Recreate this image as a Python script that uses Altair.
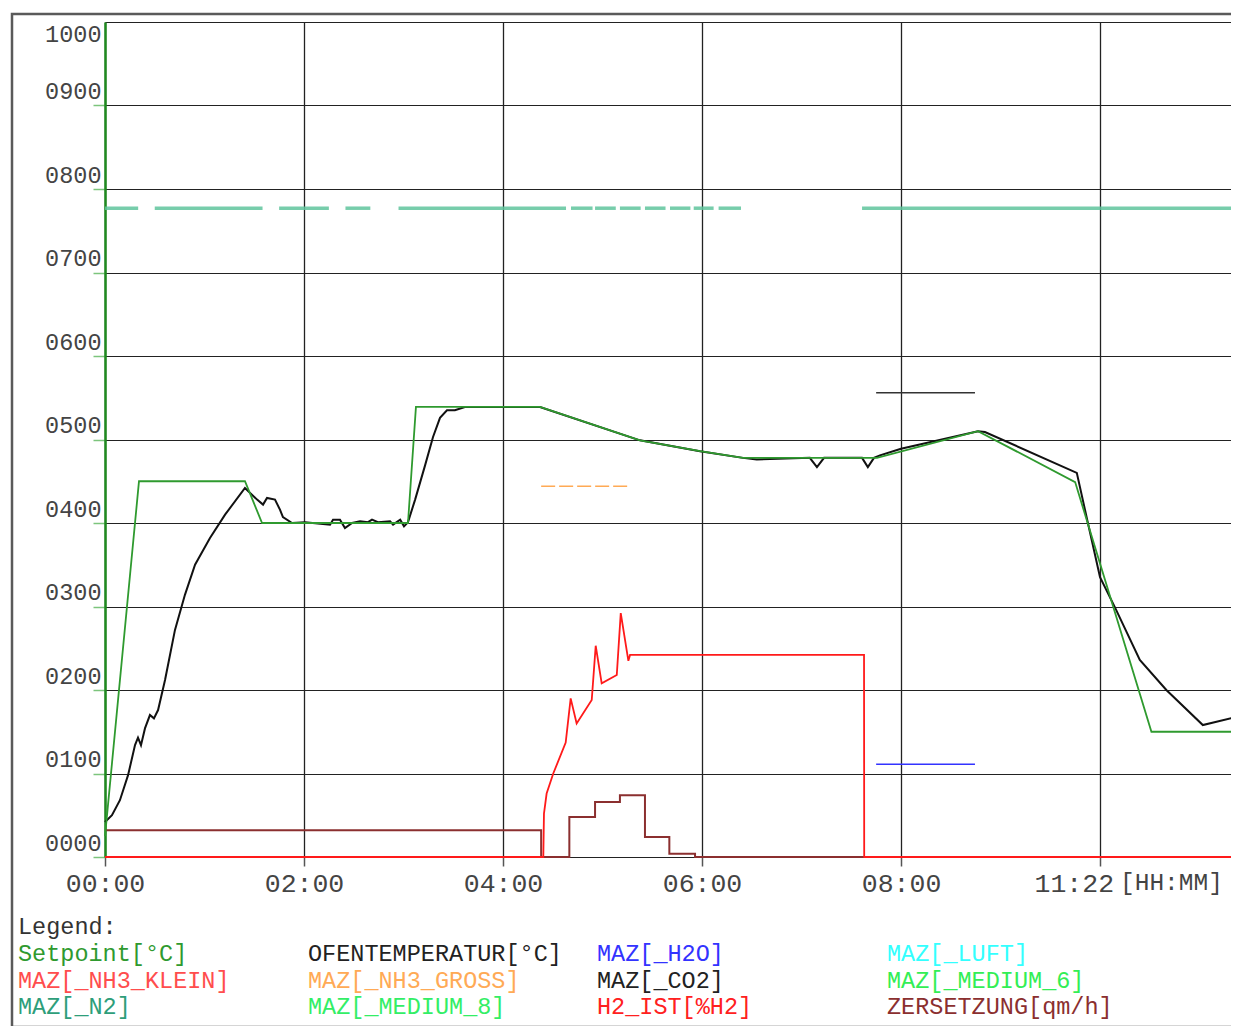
import altair as alt
import pandas as pd

# ---------------- data (time in minutes, values in axis units) ----------------
ofen_t = [0, 4.2, 9, 13.9, 18.1, 19.9, 21.7, 24.1, 27.1, 29.5, 32, 36.2, 42.2, 48.2, 54.3,
          63.3, 72.4, 84.4, 91.7, 95.3, 97.7, 102.5, 105.5, 107.3, 112.8, 120.6, 135.7,
          137.5, 141.7, 144.7, 149, 153.8, 158.6, 161, 164.6, 171.9, 173.7, 178, 180.3,
          182.7, 187, 193, 197.8, 202, 206.2, 211, 217, 262.3, 322.6, 358.8, 384.7, 393,
          425, 429.3, 433.6, 456.5, 460, 463.7, 467.3, 480, 526.4, 530.6, 586, 592.7, 600,
          609, 624, 640, 662, 682.6]
ofen_v = [42, 50, 68, 98, 134, 143, 134, 154, 170, 166, 176, 212, 272, 314, 350,
          382, 410, 442, 428, 422, 430, 428, 416, 407, 400, 401, 398,
          404, 404, 394, 400, 402, 401, 404, 401, 402, 398, 404, 396,
          401, 428, 469, 503, 526, 535, 535, 539, 539, 499, 486, 478, 476,
          478, 467, 478, 478, 467, 478, 481, 489, 510, 509, 460, 400, 335,
          299, 236, 200, 158, 168]

set_t = [0, 20.5, 84.4, 94.7, 182.7, 187.5, 262.3, 322.6, 358.8, 384.7, 465.5, 526.4,
         585, 631, 682.4, 682.6]
set_v = [25, 450, 450, 400, 400, 539, 539, 499, 486, 478, 478, 510, 449, 150, 150, 0]

h2_t = [0, 264.3, 264.7, 266.3, 270.3, 277.8, 280.8, 284.4, 293.5, 295.9, 299.5, 308.6,
        311, 315.6, 316.6, 457.7, 457.8, 682.6]
h2_v = [0, 0, 52, 76, 100, 137, 190, 160, 188, 253, 208, 218, 292, 235, 242, 242, 0, 0]

zer_t = [0, 263, 280, 295.5, 310.5, 325.6, 340.3, 355.8, 682.6]
zer_v = [32, 0, 48, 66, 74, 24, 4, 0, 0]

n2_start = [0, 30, 105, 145, 177, 281, 295.5, 310.5, 325.6, 340.7, 355, 370, 456.5]
n2_end = [20, 95, 135, 160, 278, 294, 308, 323, 338, 353, 367, 383.5, 682.6]
n2_level = 777

co2_span = [465, 524.6]
co2_level = 556
h2o_span = [465, 524.6]
h2o_level = 111
nh3g_span = [263, 316.6]
nh3g_level = 444

y_ticks = list(range(0, 1001, 100))
x_ticks = [0, 120, 240, 360, 480, 600]
end_label = "11:22"
unit_label = "[HH:MM]"

legend_labels = ["Setpoint[°C]", "OFENTEMPERATUR[°C]", "MAZ[_H2O]", "MAZ[_LUFT]",
                 "MAZ[_NH3_KLEIN]", "MAZ[_NH3_GROSS]", "MAZ[_CO2]", "MAZ[_MEDIUM_6]",
                 "MAZ[_N2]", "MAZ[_MEDIUM_8]", "H2_IST[%H2]", "ZERSETZUNG[qm/h]"]
legend_colors = ["#2f9a2f", "#222222", "#3333ff", "#33ffff",
                 "#ff4d4d", "#ffaa55", "#222222", "#33ee55",
                 "#2e9e7a", "#33ee66", "#ff2020", "#8b2f2f"]

# ---------------- scales / axes ----------------
PLOT_W = 1126      # visible plot width (page is 1239 wide)
RANGE_W = 1132     # full time range extends slightly past the page edge
PLOT_H = 835

xs = alt.Scale(domain=[0, 682.6], range=[0, RANGE_W], nice=False, zero=False)
ys = alt.Scale(domain=[0, 1000], nice=False)

xaxis = alt.Axis(
    values=x_ticks,
    labelExpr=f"datum.value == 600 ? '{end_label}' : '0' + floor(datum.value/60) + ':00'",
    grid=True, gridColor="#222222", gridWidth=1.3,
    domain=False, ticks=True, tickColor="#555555", tickSize=9, tickWidth=1.5,
    labelFont="Liberation Mono", labelFontSize=26.5, labelColor="#444444",
    labelPadding=4, labelFlush=False, labelOverlap=False,
    labelAlign={"condition": {"test": "datum.value == 600", "value": "left"}, "value": "center"},
    labelOffset={"condition": {"test": "datum.value == 600", "value": -66}, "value": 0},
    title=None,
)
yaxis = alt.Axis(
    values=y_ticks, format="04d",
    grid=True, gridColor="#222222", gridWidth=1.2,
    domain=True, domainColor="#1f8a1f", domainWidth=2.5,
    tickColor={"condition": {"test": "datum.value == 1000", "value": "transparent"}, "value": "#7cc47c"},
    tickSize=12, tickWidth=1.5,
    labelFont="Liberation Mono", labelFontSize=23.5, labelColor="#444444",
    labelBaseline="alphabetic", labelPadding=-8, labelOverlap=False,
    labelOffset={"condition": {"test": "datum.value == 1000", "value": 19}, "value": -7},
    title=None,
)

def X(field):
    return alt.X(field, type="quantitative", scale=xs, axis=xaxis, title=None)

def Y(field):
    return alt.Y(field, type="quantitative", scale=ys, axis=yaxis, title=None)

ofen_df = pd.DataFrame({"t": ofen_t, "v": ofen_v})
set_df = pd.DataFrame({"t": set_t, "v": set_v})
h2_df = pd.DataFrame({"t": h2_t, "v": h2_v})
zer_df = pd.DataFrame({"t": zer_t, "v": zer_v})
n2_df = pd.DataFrame({"start": n2_start, "end": n2_end, "v": [n2_level] * len(n2_start)})
co2_df = pd.DataFrame({"start": [co2_span[0]], "end": [co2_span[1]], "v": [co2_level]})
h2o_df = pd.DataFrame({"start": [h2o_span[0]], "end": [h2o_span[1]], "v": [h2o_level]})
nh3_df = pd.DataFrame({"start": [nh3g_span[0]], "end": [nh3g_span[1]], "v": [nh3g_level]})

layers = []

# outer frame
frame = alt.Chart(pd.DataFrame({"a": [0]})).mark_rect(
    fill="transparent", stroke="#5a5a5a", strokeWidth=2.5
).encode(x=alt.value(-93), x2=alt.value(1300), y=alt.value(-8), y2=alt.value(1005))
layers.append(frame)

# lines
ofen = alt.Chart(ofen_df).mark_line(color="#111111", strokeWidth=2).encode(x=X("t"), y=Y("v"))
layers.append(ofen)

layers.append(alt.Chart(n2_df).mark_rule(color="#5fc49c", strokeWidth=3.5, opacity=0.85)
              .encode(x=X("start"), x2="end", y=Y("v")))
layers.append(alt.Chart(nh3_df).mark_rule(color="#ffaa55", strokeWidth=1.5, strokeDash=[14, 4])
              .encode(x=X("start"), x2="end", y=Y("v")))
layers.append(alt.Chart(co2_df).mark_rule(color="#333333", strokeWidth=1.5)
              .encode(x=X("start"), x2="end", y=Y("v")))
layers.append(alt.Chart(h2o_df).mark_rule(color="#3333ff", strokeWidth=1.5)
              .encode(x=X("start"), x2="end", y=Y("v")))
layers.append(alt.Chart(zer_df).mark_line(color="#8b2f2f", strokeWidth=2, interpolate="step-after")
              .encode(x=X("t"), y=Y("v")))
layers.append(alt.Chart(h2_df).mark_line(color="#ff1a1a", strokeWidth=1.8)
              .encode(x=X("t"), y=Y("v")))
layers.append(alt.Chart(set_df).mark_line(color="#2f9a2f", strokeWidth=1.8)
              .encode(x=X("t"), y=Y("v")))

# x-axis unit suffix
layers.append(alt.Chart(pd.DataFrame({"s": [unit_label]})).mark_text(
    font="Liberation Mono", fontSize=24.5, color="#444444", align="left", baseline="middle"
).encode(text="s:N", x=alt.value(1015), y=alt.value(861)))

# legend block
LEG_FONT = "Liberation Mono"
LEG_SIZE = 23.5
col_x = [-87, 203, 492, 782]
row_y0 = 932
row_dy = 26.5
layers.append(alt.Chart(pd.DataFrame({"s": ["Legend:"]})).mark_text(
    font=LEG_FONT, fontSize=LEG_SIZE, color="#333333", align="left", baseline="middle"
).encode(text="s:N", x=alt.value(-87), y=alt.value(905)))
for i, (lab, colr) in enumerate(zip(legend_labels, legend_colors)):
    c, r = i % 4, i // 4
    layers.append(alt.Chart(pd.DataFrame({"s": [lab]})).mark_text(
        font=LEG_FONT, fontSize=LEG_SIZE, color=colr, align="left", baseline="middle"
    ).encode(text="s:N", x=alt.value(col_x[c]), y=alt.value(row_y0 + r * row_dy)))

chart = alt.layer(*layers).properties(
    width=PLOT_W, height=PLOT_H,
    padding={"left": 97, "top": 14, "right": 0, "bottom": 169},
    autosize=alt.AutoSizeParams(type="none"),
    background="white",
).configure_view(strokeWidth=0)

chart.save("out.html", embed_options={"renderer": "svg", "actions": False})
